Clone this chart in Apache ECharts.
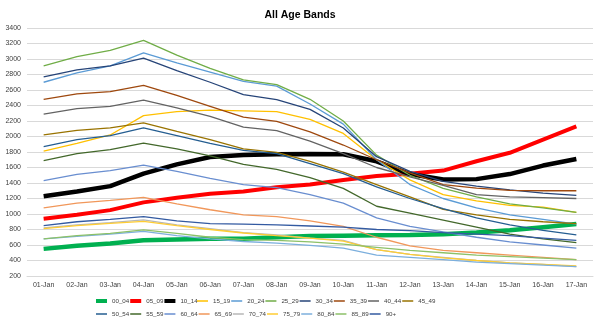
<!DOCTYPE html>
<html><head><meta charset="utf-8">
<script src="https://cdn.jsdelivr.net/npm/echarts@6/dist/echarts.min.js"></script>
<style>html,body{margin:0;padding:0;background:#fff}#c{width:600px;height:327px}</style>
</head><body><div id="c"></div>
<script>
const categories = ['01-Jan','02-Jan','03-Jan','04-Jan','05-Jan','06-Jan','07-Jan','08-Jan','09-Jan','10-Jan','11-Jan','12-Jan','13-Jan','14-Jan','15-Jan','16-Jan','17-Jan'];
const yTicks = {min: 200, max: 3400, step: 200};

const a00_04 = [550,590,620,660,670,680,680,700,715,720,725,730,740,760,790,830,870];
const a05_09 = [940,990,1050,1150,1210,1260,1290,1345,1380,1440,1490,1520,1560,1680,1790,1960,2130];
const a10_14 = [1230,1290,1360,1520,1640,1735,1760,1770,1775,1770,1680,1515,1445,1450,1515,1625,1710];
const a15_19 = [1810,1910,2020,2270,2320,2340,2330,2320,2220,2040,1700,1440,1250,1170,1110,1090,1020];
const a20_24 = [2700,2820,2910,3080,2950,2830,2710,2650,2420,2160,1700,1380,1200,1080,990,930,870];
const a25_29 = [2910,3030,3110,3240,3050,2880,2730,2670,2480,2200,1760,1500,1330,1220,1130,1080,1020];
const a30_34 = [2770,2860,2910,3010,2850,2700,2540,2475,2350,2110,1740,1550,1420,1360,1310,1270,1240];
const a35_39 = [2480,2550,2580,2660,2530,2390,2250,2195,2060,1890,1700,1530,1380,1335,1305,1300,1300];
const a40_44 = [2290,2360,2390,2470,2370,2260,2120,2075,1940,1780,1600,1480,1370,1250,1220,1210,1200];
const a45_49 = [2020,2080,2110,2175,2065,1960,1840,1795,1680,1540,1380,1220,1060,990,930,900,875];
const a50_54 = [1870,1960,2010,2110,2010,1910,1820,1780,1650,1520,1350,1200,1070,950,860,790,730];
const a55_59 = [1690,1780,1830,1915,1840,1750,1640,1575,1470,1330,1100,1010,920,830,740,680,630];
const a60_64 = [1430,1510,1560,1630,1550,1460,1380,1340,1250,1140,950,840,770,700,640,600,560];
const a65_69 = [1080,1140,1175,1215,1130,1055,990,965,910,840,700,590,530,500,470,440,410];
const a70_74 = [820,860,890,925,860,810,760,730,690,660,540,480,440,400,370,350,320];
const a75_79 = [810,850,880,905,850,800,755,720,690,650,540,480,435,400,370,350,330];
const a80_84 = [680,710,740,775,720,680,645,625,595,560,470,440,410,380,360,340,320];
const a85_89 = [680,720,750,795,750,700,670,660,640,610,570,530,500,470,450,430,410];
const a90p   = [850,900,930,965,910,875,870,860,845,830,800,785,760,740,720,690,660];

const names = ['00_04','05_09','10_14','15_19','20_24','25_29','30_34','35_39','40_44','45_49','50_54','55_59','60_64','65_69','70_74','75_79','80_84','85_89','90+'];
const values = [a00_04,a05_09,a10_14,a15_19,a20_24,a25_29,a30_34,a35_39,a40_44,a45_49,a50_54,a55_59,a60_64,a65_69,a70_74,a75_79,a80_84,a85_89,a90p];

const colors = ['#00B050','#FF0000','#000000','#FFC000','#5B9BD5','#70AD47','#264478','#9E480E','#636363','#997300','#255E91','#43682B','#698ED0','#F1975A','#B7B7B7','#FFCD33','#7CAFDD','#8CC168','#335AA1'];
const widths = [4.5,4,4.5];

const series = names.map((n,i)=>({
  name:n, type:'line', data:values[i], symbol:'none',
  lineStyle:{color:colors[i], width: widths[i] || 1.3},
  itemStyle:{color:colors[i]}
}));

const legendText = {fontSize:6.2, color:'#404040', fontFamily:'Liberation Sans'};
const legBase = {icon:'rect', itemWidth:11, itemGap:1, textStyle:legendText, padding:0};
const chart = echarts.init(document.getElementById('c'), null, {renderer:'canvas'});
chart.setOption({
  animation:false,
  title:{text:'All Age Bands', left:'center', top:5, textStyle:{fontSize:10.5, fontWeight:'bold', color:'#000', fontFamily:'Liberation Sans'}},
  grid:{left:27, right:7, top:28, bottom:51, containLabel:false},
  legend:[
    Object.assign({}, legBase, {data:names.slice(0,3), left:96, top:298, itemHeight:4}),
    Object.assign({}, legBase, {data:names.slice(3,10), left:197, top:298, itemHeight:1.5}),
    Object.assign({}, legBase, {data:names.slice(10), left:96, top:311, itemHeight:1.5})
  ],
  xAxis:{type:'category', data:categories, boundaryGap:true,
    axisLine:{lineStyle:{color:'#d9d9d9'}}, axisTick:{show:false},
    axisLabel:{fontSize:7, color:'#404040', margin:6, interval:0, fontFamily:'Liberation Sans'}},
  yAxis:{type:'value', min:yTicks.min, max:yTicks.max, interval:yTicks.step,
    axisLine:{show:false}, axisTick:{show:false},
    splitLine:{lineStyle:{color:'#d9d9d9', width:1}},
    axisLabel:{fontSize:7, color:'#404040', margin:6, fontFamily:'Liberation Sans', formatter:(v)=>String(v)}},
  series: series
});
</script></body></html>
